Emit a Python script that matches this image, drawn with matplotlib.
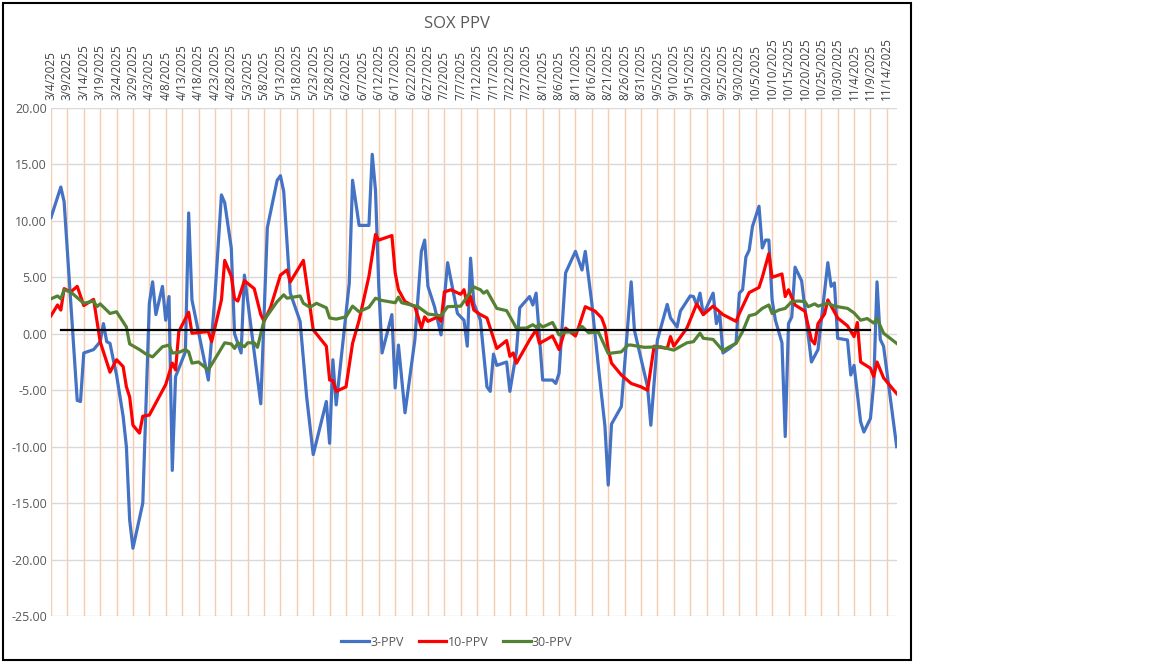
import pandas as pd
import matplotlib
matplotlib.use("Agg")
import matplotlib.pyplot as plt
from matplotlib.patches import Rectangle

# day offsets from 3/4/2025 and values
start = pd.Timestamp("2025-03-04")

ppv3_days = [0, 3, 4, 8, 9, 10, 13, 15, 16, 17, 18, 19, 20, 22, 23, 24, 25, 28, 29, 30,
             31, 32, 34, 35, 36, 37, 38, 41, 42, 43, 48, 50, 52, 53, 55, 56, 58, 59, 64, 66,
             69, 70, 71, 73, 76, 78, 80, 84, 85, 86, 87, 91, 92, 94, 97, 98, 99, 100, 101, 104,
             105, 106, 108, 111, 113, 114, 115, 117, 119, 121, 124, 126, 127, 128, 129, 131, 133, 134, 135, 136,
             139, 140, 142, 143, 146, 147, 148, 150, 153, 154, 155, 157, 160, 162, 163, 165, 167, 169, 170, 171,
             174, 177, 178, 182, 183, 185, 188, 189, 191, 192, 195, 196, 197, 198, 199, 202, 203, 204, 205, 207,
             209, 210, 211, 212, 213, 214, 216, 217, 218, 219, 220, 221, 223, 224, 225, 226, 227, 229, 232, 234,
             237, 238, 239, 240, 243, 244, 245, 247, 248, 250, 251, 252, 253, 254, 258]
ppv3_vals = [10.3, 13.0, 11.7, -5.9, -6.0, -1.7, -1.4, -0.7, 0.9, -0.7, -0.85, -2.3, -3.65, -7.3, -10.0, -16.5, -19.0, -15.0, -6.1, 2.7,
             4.6, 1.7, 4.2, 1.2, 3.3, -12.1, -3.8, -1.6, 10.7, 3.0, -4.1, 3.3, 12.3, 11.6, 7.6, 0.0, -1.7, 5.2, -6.2, 9.4,
             13.6, 14.0, 12.6, 3.6, 1.1, -5.6, -10.7, -6.0, -9.7, -2.3, -6.3, 4.5, 13.6, 9.6, 9.6, 15.9, 12.7, 4.2, -1.7, 1.7,
             -4.8, -1.0, -7.0, -0.55, 7.3, 8.3, 4.2, 2.4, -0.1, 6.3, 1.8, 1.2, -1.1, 6.7, 2.7, 1.2, -4.7, -5.1, -1.8, -2.8,
             -2.5, -5.1, -1.6, 2.3, 3.3, 2.55, 3.6, -4.1, -4.1, -4.4, -3.5, 5.4, 7.3, 5.65, 7.3, 2.7, -2.9, -8.2, -13.4, -8.0,
             -6.45, 4.6, 0.3, -4.7, -8.1, -0.55, 2.6, 1.4, 0.6, 2.0, 3.35, 3.3, 2.55, 3.6, 1.7, 3.6, 0.9, 1.8, -1.7, -1.3,
             -0.8, 3.6, 3.9, 6.8, 7.4, 9.5, 11.3, 7.6, 8.3, 8.3, 3.0, 1.2, -0.8, -9.1, 0.9, 1.5, 5.9, 4.7, -2.5, -1.4,
             6.3, 4.2, 4.5, -0.4, -0.55, -3.65, -2.8, -7.8, -8.7, -7.5, -4.4, 4.6, -0.5, -1.1, -10.0]

ppv10_days = [0, 2, 3, 4, 6, 8, 10, 13, 15, 18, 20, 22, 23, 24, 25, 27, 28, 30, 35, 37,
              38, 39, 42, 43, 48, 49, 52, 53, 55, 56, 57, 59, 62, 64, 65, 67, 70, 72, 73, 77,
              80, 84, 85, 86, 87, 90, 92, 94, 97, 99, 100, 104, 105, 106, 108, 111, 112, 113, 114, 115,
              118, 119, 120, 122, 125, 126, 127, 128, 129, 131, 133, 136, 139, 140, 141, 142, 146, 148, 149, 153,
              155, 157, 160, 161, 163, 166, 168, 169, 170, 171, 174, 177, 180, 182, 184, 188, 189, 190, 194, 197,
              199, 202, 205, 209, 210, 213, 216, 217, 219, 220, 223, 224, 225, 227, 230, 232, 233, 234, 236, 237,
              240, 243, 245, 246, 247, 250, 251, 252, 254, 258]
ppv10_vals = [1.6, 2.55, 2.1, 4.0, 3.7, 4.2, 2.5, 3.05, -0.7, -3.4, -2.3, -2.9, -4.7, -5.6, -8.1, -8.8, -7.3, -7.2, -4.5, -2.6,
              -3.2, 0.2, 1.9, 0.05, 0.2, -0.7, 3.0, 6.5, 5.1, 3.1, 2.9, 4.7, 4.0, 1.7, 1.1, 2.35, 5.2, 5.65, 4.6, 6.5,
              0.35, -1.1, -4.1, -4.15, -5.1, -4.7, -0.85, 1.2, 5.1, 8.8, 8.3, 8.7, 5.4, 3.9, 2.85, 2.4, 1.5, 0.5, 1.5, 1.1,
              1.5, 1.1, 3.7, 3.9, 3.5, 3.9, 2.55, 3.3, 2.1, 1.7, 1.4, -1.3, -0.6, -2.0, -1.7, -2.6, -0.55, 0.35, -0.85, -0.2,
              -1.4, 0.5, -0.2, 0.6, 2.4, 2.0, 1.4, 0.6, -1.4, -2.6, -3.65, -4.4, -4.7, -5.0, -1.1, -1.3, -0.25, -1.1, 0.5, 2.65,
              1.7, 2.45, 1.7, 1.1, 1.8, 3.65, 4.1, 5.0, 7.1, 5.0, 5.3, 3.3, 3.9, 2.55, 2.0, -0.55, -0.9, 0.9, 1.75, 3.0,
              1.4, 0.7, -0.25, 1.0, -2.5, -3.05, -3.8, -2.5, -3.9, -5.3]

ppv30_days = [0, 2, 3, 4, 6, 8, 10, 13, 14, 15, 18, 20, 23, 24, 27, 29, 31, 34, 36, 37,
              39, 41, 42, 43, 45, 48, 53, 55, 56, 57, 59, 60, 62, 63, 65, 69, 71, 72, 76, 77,
              79, 81, 84, 85, 87, 90, 92, 94, 97, 99, 101, 105, 106, 107, 112, 115, 119, 121, 125, 129,
              131, 132, 133, 136, 139, 142, 145, 147, 148, 149, 150, 153, 155, 157, 160, 162, 164, 167, 170, 174,
              176, 177, 181, 186, 190, 194, 196, 198, 199, 202, 205, 207, 209, 211, 213, 215, 217, 219, 220, 222,
              224, 226, 228, 230, 231, 233, 234, 237, 239, 243, 245, 247, 249, 251, 252, 254, 258]
ppv30_vals = [3.1, 3.35, 3.1, 3.9, 3.7, 3.2, 2.7, 2.9, 2.4, 2.65, 1.8, 1.95, 0.6, -0.9, -1.4, -1.8, -2.05, -1.15, -1.0, -1.7,
              -1.65, -1.4, -1.6, -2.6, -2.5, -3.2, -0.8, -0.9, -1.3, -0.8, -1.15, -0.8, -0.8, -1.2, 1.2, 2.85, 3.45, 3.15, 3.35, 2.7,
              2.35, 2.7, 2.3, 1.4, 1.3, 1.5, 2.45, 1.95, 2.35, 3.15, 2.95, 2.75, 3.25, 2.75, 2.4, 1.75, 1.6, 2.4, 2.45, 4.15,
              3.9, 3.6, 3.8, 2.25, 2.05, 0.5, 0.5, 0.8, 0.6, 0.85, 0.6, 1.0, -0.1, 0.15, 0.2, 0.65, 0.1, 0.15, -1.75, -1.6,
              -1.0, -1.0, -1.2, -1.15, -1.45, -0.8, -0.7, 0.05, -0.4, -0.5, -1.5, -1.15, -0.85, 0.2, 1.6, 1.75, 2.25, 2.55, 1.8, 2.1,
              2.25, 2.85, 2.9, 2.85, 2.4, 2.65, 2.45, 2.7, 2.45, 2.25, 1.85, 1.2, 1.35, 0.95, 1.35, 0.05, -0.85]

base_days = [3, 250]
base_vals = [0.3, 0.3]

y_ticks = [20, 15, 10, 5, 0, -5, -10, -15, -20, -25]


def to_dates(days):
    return start + pd.to_timedelta(days, unit="D")


fig = plt.figure(figsize=(11.52, 6.62), dpi=100)
plt.rcParams["font.family"] = ["Open Sans", "DejaVu Sans"]

# outer chart border
fig.patches.append(Rectangle((3 / 1152, 2 / 662), 908 / 1152, 657 / 662, transform=fig.transFigure,
                             fill=False, edgecolor="black", linewidth=1.5))

ax = fig.add_axes([51 / 1152, 1 - 616 / 662, 846 / 1152, 508 / 662])

ax.plot(to_dates(ppv3_days), ppv3_vals, color="#4472C4", lw=2.3, label="3-PPV", zorder=3)
ax.plot(to_dates(ppv10_days), ppv10_vals, color="#FF0000", lw=2.3, label="10-PPV", zorder=4)
ax.plot(to_dates(ppv30_days), ppv30_vals, color="#548235", lw=2.3, label="30-PPV", zorder=5)
ax.plot(to_dates(base_days), base_vals, color="black", lw=1.6, zorder=6)

ax.set_ylim(-25, 20)
ax.set_xlim(start, start + pd.Timedelta(days=258.1))

ax.set_yticks(y_ticks)
ax.set_yticklabels([f"{v:.2f}" for v in y_ticks], color="#595959", fontsize=9)

x_ticks = pd.date_range("2025-03-04", "2025-11-14", freq="5D")
ax.set_xticks(x_ticks)
ax.set_xticklabels([f"{d.month}/{d.day}/{d.year}" for d in x_ticks], rotation=90,
                   color="#404040", fontsize=8.5)
ax.xaxis.tick_top()
ax.tick_params(axis="both", length=0)
ax.tick_params(axis="x", pad=6)
ax.tick_params(axis="y", pad=3)

ax.grid(axis="y", color="#D9D9D9", lw=1)
ax.grid(axis="x", color="#F8CBAD", lw=1.0)
ax.set_axisbelow(True)
for s in ax.spines.values():
    s.set_visible(False)

fig.text(457 / 1152, 1 - 24 / 662, "SOX PPV", ha="center", va="center", fontsize=12, color="#595959")

fig.legend(loc="center", bbox_to_anchor=(457 / 1152, 1 - 642 / 662), ncol=3, frameon=False,
           fontsize=9, handlelength=2.2, handletextpad=0.1, columnspacing=1.2,
           labelcolor="#595959")

fig.savefig("out.png", dpi=100)
